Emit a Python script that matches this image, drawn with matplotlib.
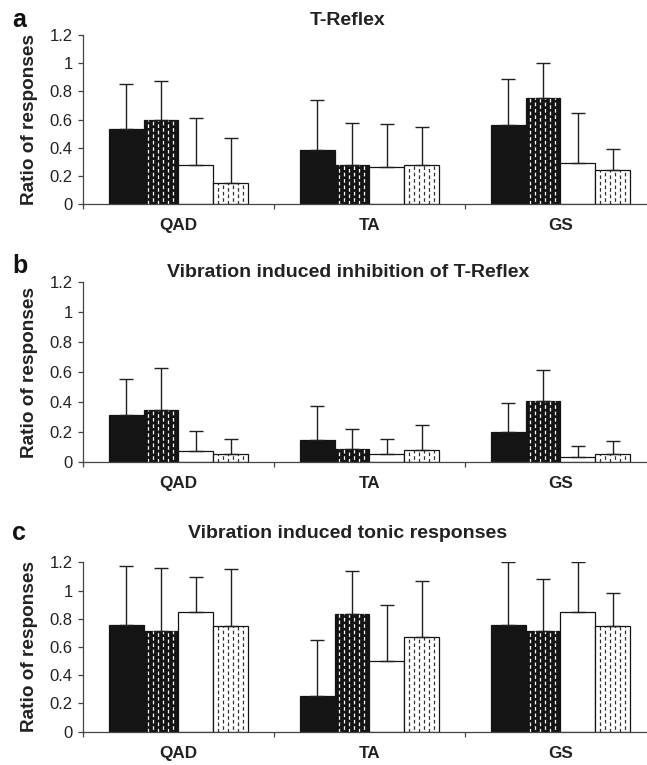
import numpy as np
import matplotlib
matplotlib.use('Agg')
import matplotlib.pyplot as plt

plt.rcParams['font.family'] = ['Liberation Sans', 'DejaVu Sans']

categories = ['QAD', 'TA', 'GS']
panel_letters = ['a', 'b', 'c']
panel_titles = ['T-Reflex',
                'Vibration induced inhibition of T-Reflex',
                'Vibration induced tonic responses']
y_ticks = [0, 0.2, 0.4, 0.6, 0.8, 1.0, 1.2]
y_tick_labels = ['0', '0.2', '0.4', '0.6', '0.8', '1', '1.2']
y_label = 'Ratio of responses'

# rows = the four bar series, columns = categories (QAD, TA, GS)
a_means = [[0.53, 0.38, 0.563],
           [0.60, 0.275, 0.755],
           [0.28, 0.263, 0.293],
           [0.147, 0.28, 0.244]]
a_errors = [[0.32, 0.36, 0.325],
            [0.276, 0.30, 0.245],
            [0.33, 0.305, 0.353],
            [0.32, 0.267, 0.144]]

b_means = [[0.315, 0.147, 0.204],
           [0.35, 0.091, 0.41],
           [0.073, 0.053, 0.037],
           [0.053, 0.082, 0.057]]
b_errors = [[0.242, 0.23, 0.189],
            [0.28, 0.131, 0.207],
            [0.136, 0.102, 0.072],
            [0.10, 0.167, 0.087]]

c_means = [[0.754, 0.253, 0.754],
           [0.714, 0.836, 0.711],
           [0.85, 0.499, 0.85],
           [0.751, 0.669, 0.749]]
c_errors = [[0.423, 0.397, 0.451],
            [0.446, 0.301, 0.369],
            [0.244, 0.401, 0.353],
            [0.40, 0.399, 0.232]]

panel_means = [a_means, b_means, c_means]
panel_errors = [a_errors, b_errors, c_errors]

# styling
face_colors = ['#141414', '#141414', 'white', 'white']
dash_colors = [None, 'white', None, '#303030']
bar_width = 0.182
W, H = 647, 765
# axes rectangles in pixels: (left, top, right, bottom)
axes_px = [(83, 35, 647, 204), (83, 282.3, 647, 462.3), (83, 562.3, 647, 731.7)]
letter_px = [(12, 27), (12, 273), (12, 540)]
title_px = [(348, 25), (348, 277), (348, 538)]

fig = plt.figure(figsize=(W / 100, H / 100), dpi=100)

x = np.arange(len(categories))
for p in range(3):
    l, t, r, b = axes_px[p]
    ax = fig.add_axes([l / W, 1 - b / H, (r - l) / W, (b - t) / H])
    means = panel_means[p]
    errs = panel_errors[p]
    for s in range(4):
        xs = x + (s - 1.5) * bar_width
        bars = ax.bar(xs, means[s], width=bar_width, color=face_colors[s],
                      edgecolor='#141414', linewidth=0.9, zorder=2)
        ax.errorbar(xs, means[s], yerr=[np.zeros(3), errs[s]], fmt='none',
                    ecolor='#202020', elinewidth=1.0, capsize=5,
                    capthick=1.0, zorder=3)
        if dash_colors[s] is not None:
            for rect in bars:
                x0 = rect.get_x()
                w = rect.get_width()
                h = rect.get_height()
                for k in range(6):
                    xl = x0 + (k + 0.9) * w / 7
                    off = 0 if k % 2 == 0 else 3
                    ln, = ax.plot([xl, xl], [0, h], color=dash_colors[s],
                                  linewidth=0.9,
                                  linestyle=(off, (2.9, 2.2)), zorder=2.5,
                                  solid_capstyle='butt', dash_capstyle='butt')
                    ln.set_clip_path(rect)
    ax.set_xlim(-0.5, 2.453)
    ax.set_ylim(0, 1.2)
    ax.set_yticks(y_ticks)
    ax.set_yticklabels(y_tick_labels, fontsize=12, color='#222222')
    ax.set_xticks(x)
    ax.set_xticklabels(categories, fontsize=12.3, fontweight='bold', color='#222222')
    ax.set_xticks([-0.5, 0.5, 1.5], minor=True)
    ax.tick_params(axis='x', which='major', length=0, pad=10)
    ax.tick_params(axis='x', which='minor', length=3.5, width=0.9, color='#444444',
                   direction='out')
    ax.tick_params(axis='y', length=3.5, width=0.9, color='#444444', pad=4)
    for sp in ['top', 'right']:
        ax.spines[sp].set_visible(False)
    for sp in ['left', 'bottom']:
        ax.spines[sp].set_color('#444444')
        ax.spines[sp].set_linewidth(0.9)
    ax.set_ylabel(y_label, fontsize=13.7, fontweight='bold', color='#222222', labelpad=8)
    lx, ly = letter_px[p]
    fig.text(lx / W, 1 - ly / H, panel_letters[p], fontsize=18, fontweight='bold',
             ha='left', va='baseline', color='#111111')
    tx, ty = title_px[p]
    fig.text(tx / W, 1 - ty / H, panel_titles[p], fontsize=14, fontweight='bold',
             ha='center', va='baseline', color='#222222')

fig.savefig('out.png', dpi=100)
